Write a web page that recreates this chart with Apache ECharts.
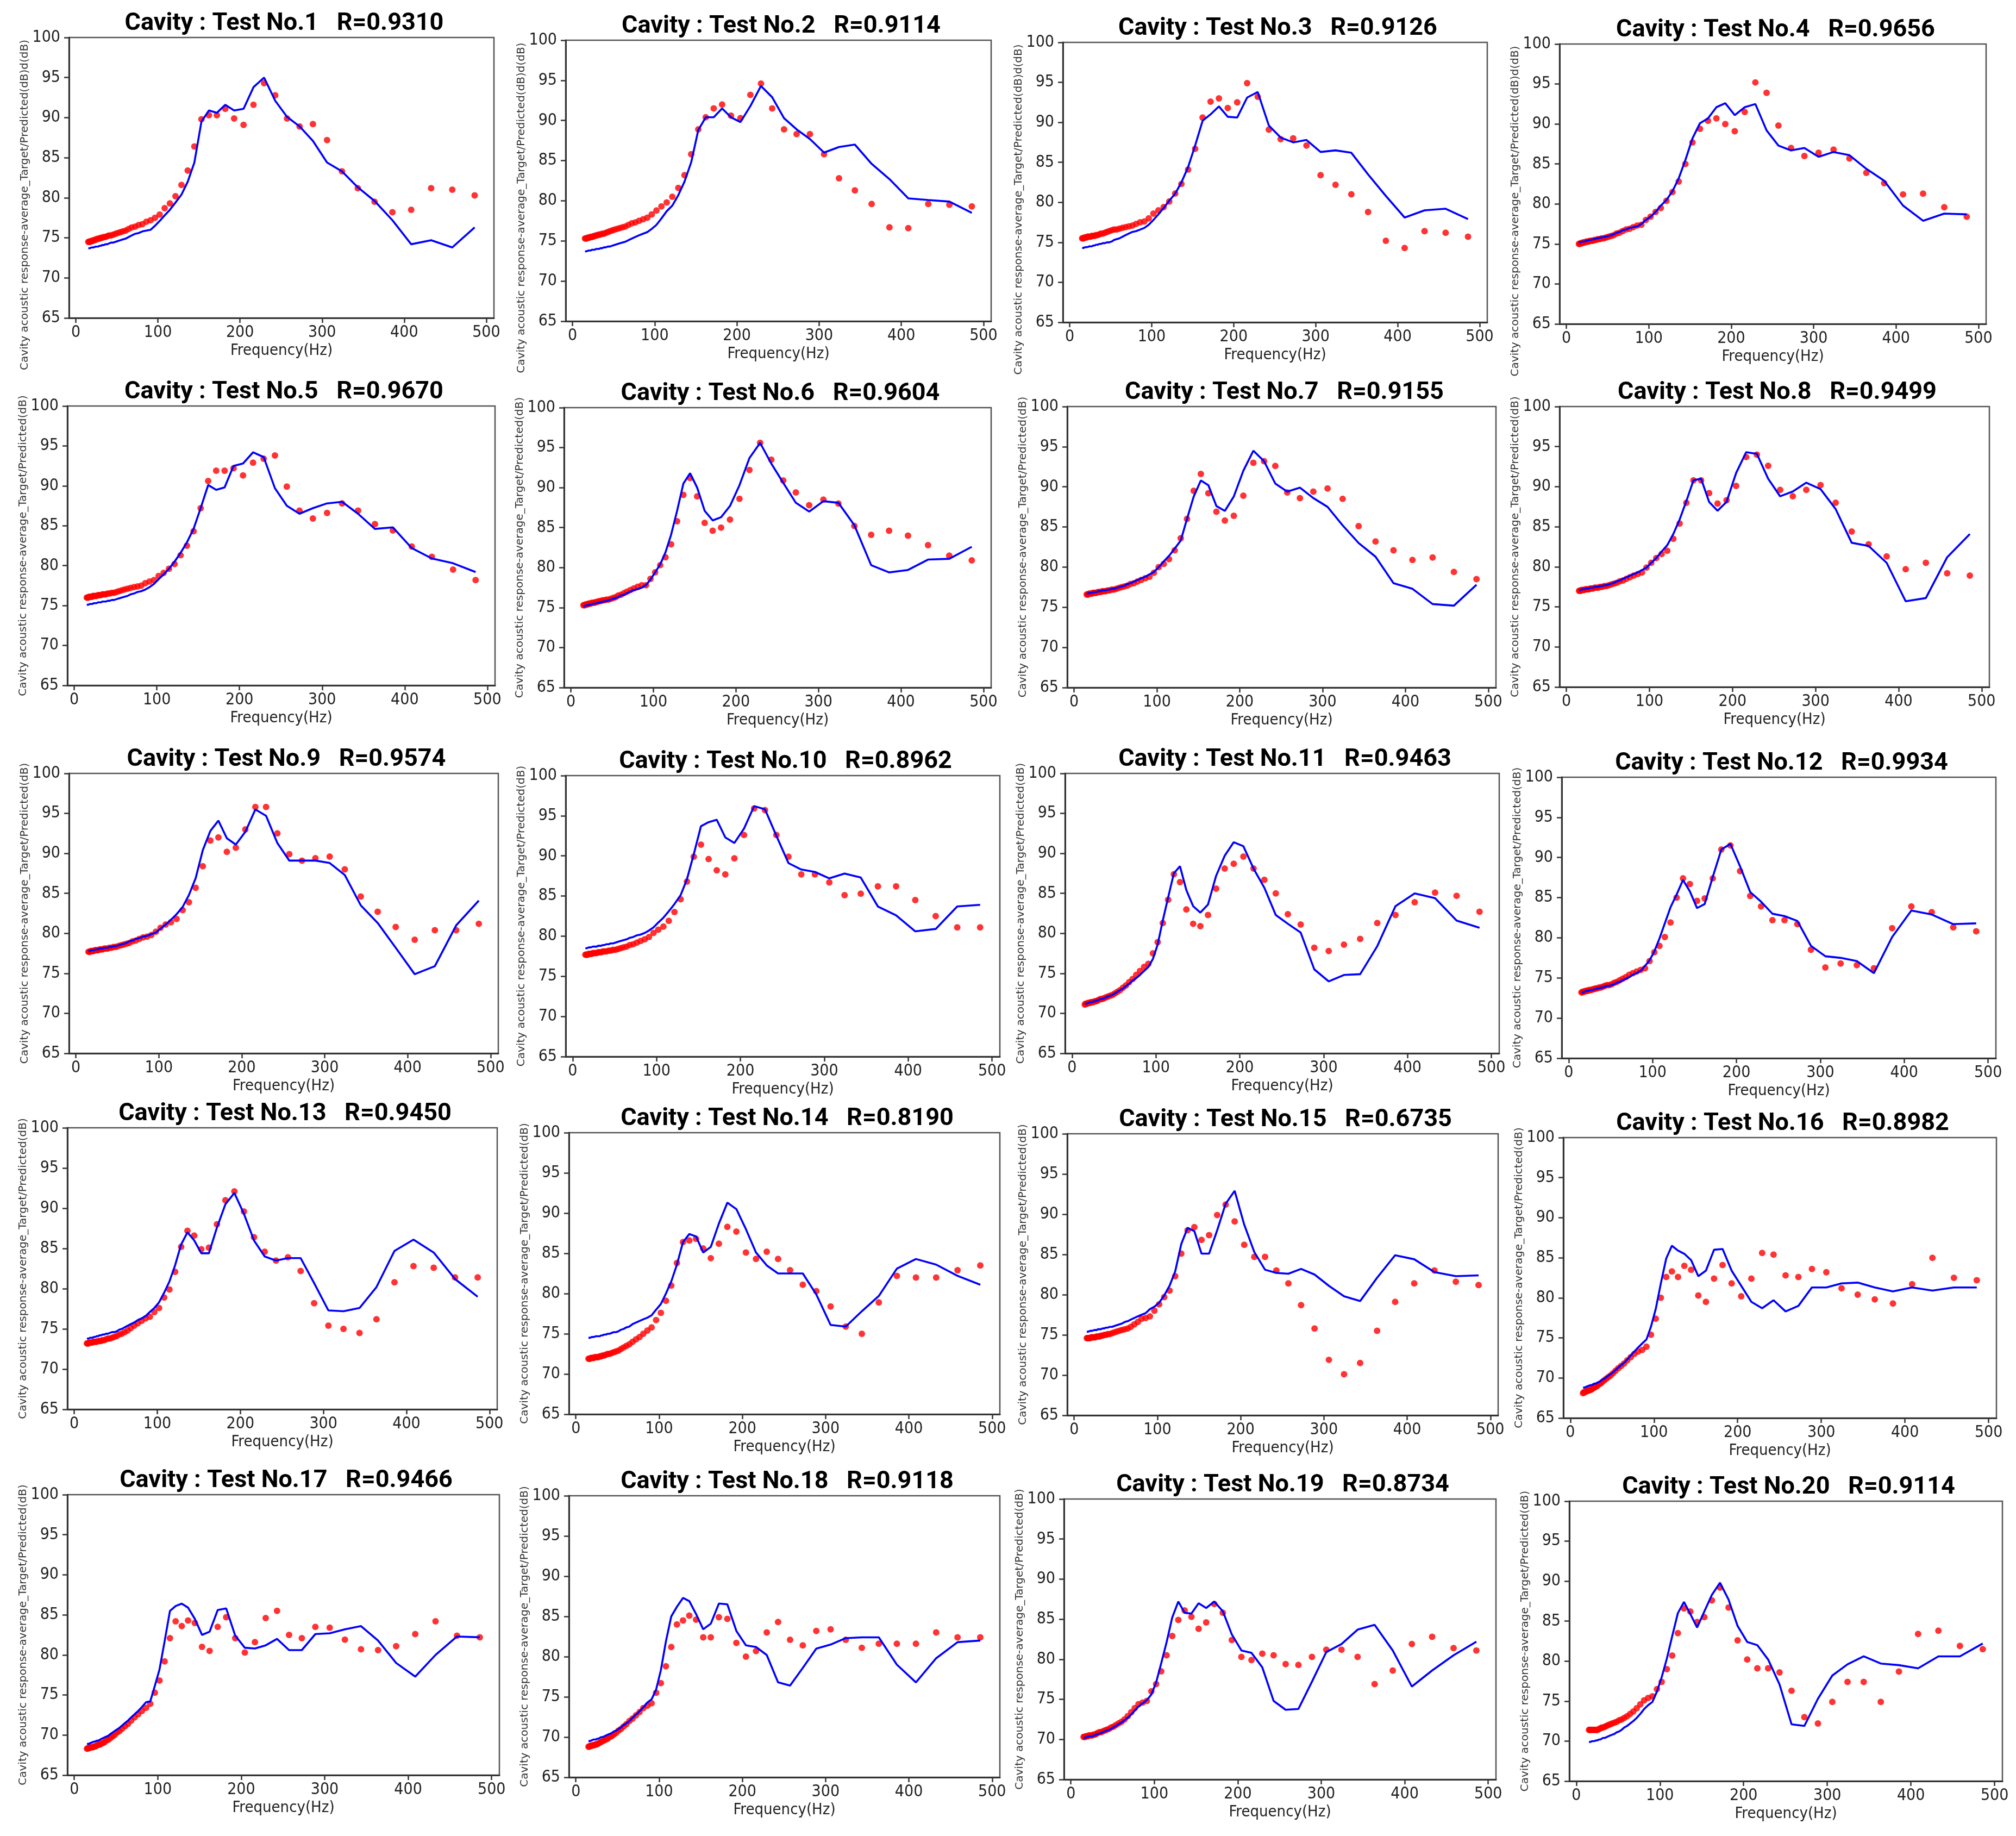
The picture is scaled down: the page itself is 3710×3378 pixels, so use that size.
<!DOCTYPE html>
<html><head><meta charset="utf-8">
<script src="https://cdn.jsdelivr.net/npm/echarts@6/dist/echarts.min.js"></script>
<style>html,body{margin:0;padding:0;background:#fff}#c{width:3710px;height:3378px}</style>
</head><body><div id="c"></div>
<script>
// 1/12-octave band frequencies (Hz)
const freq = [15.2,16.1,17.0,18.0,19.1,20.3,21.5,22.7,24.1,25.5,27.0,28.7,30.4,32.1,34.1,36.1,38.2,40.5,42.9,45.5,48.2,51.1,54.1,57.3,60.7,64.3,68.1,72.2,76.5,81.0,85.9,91.0,96.4,102.1,108.2,114.6,121.4,128.7,136.3,144.4,153.0,162.1,171.8,182.0,192.8,204.3,216.4,229.3,242.9,257.3,272.6,288.8,306.0,324.2,343.5,363.9,385.6,408.5,432.8,458.5,485.8];

const target1 = [74.5,74.5,74.5,74.6,74.6,74.6,74.7,74.7,74.8,74.8,74.9,74.9,75.0,75.0,75.1,75.1,75.2,75.3,75.3,75.4,75.5,75.6,75.7,75.8,75.9,76.1,76.3,76.4,76.6,76.7,77.0,77.2,77.5,77.9,78.7,79.3,80.2,81.6,83.4,86.4,89.8,90.3,90.3,91.1,89.9,89.1,91.6,94.3,92.8,89.9,88.9,89.2,87.2,83.3,81.2,79.5,78.2,78.5,81.2,81.0,80.3];
const pred1 = [73.7,73.7,73.7,73.7,73.8,73.8,73.8,73.8,73.9,73.9,73.9,74.0,74.0,74.1,74.1,74.2,74.2,74.3,74.4,74.4,74.5,74.6,74.7,74.8,74.9,75.1,75.3,75.5,75.6,75.8,75.9,76.0,76.5,77.1,77.8,78.5,79.4,80.4,82.0,84.4,89.5,90.9,90.6,91.6,90.9,91.1,93.8,95.0,92.1,90.1,88.9,87.1,84.4,83.3,81.3,79.6,77.2,74.2,74.7,73.8,76.3];
const target2 = [75.3,75.3,75.3,75.4,75.4,75.4,75.5,75.5,75.5,75.6,75.6,75.7,75.7,75.8,75.8,75.9,75.9,76.0,76.1,76.2,76.3,76.4,76.5,76.6,76.7,76.8,77.0,77.2,77.3,77.5,77.7,77.9,78.3,78.8,79.3,79.8,80.5,81.6,83.2,85.8,88.9,90.4,91.5,92.0,90.6,90.3,93.2,94.6,91.5,88.9,88.3,88.3,85.8,82.8,81.3,79.6,76.7,76.6,79.6,79.5,79.3];
const pred2 = [73.7,73.7,73.7,73.7,73.8,73.8,73.8,73.8,73.9,73.9,73.9,74.0,74.0,74.0,74.1,74.1,74.2,74.2,74.3,74.3,74.4,74.5,74.6,74.7,74.8,74.9,75.1,75.3,75.5,75.7,75.9,76.1,76.5,77.0,77.8,78.7,79.4,80.7,82.4,84.8,88.8,90.4,90.4,91.5,90.4,89.8,91.8,94.3,92.9,90.3,88.9,87.7,86.0,86.7,87.0,84.6,82.7,80.3,80.1,79.9,78.5];
const target3 = [75.5,75.5,75.5,75.6,75.6,75.6,75.7,75.7,75.7,75.7,75.8,75.8,75.8,75.9,75.9,76.0,76.1,76.1,76.2,76.3,76.4,76.5,76.6,76.6,76.7,76.8,76.9,77.0,77.1,77.3,77.5,77.6,78.0,78.6,79.0,79.4,80.1,81.1,82.3,84.1,86.7,90.6,92.6,93.0,91.8,92.5,94.9,93.2,89.1,87.9,88.0,87.1,83.4,82.2,81.0,78.8,75.2,74.3,76.4,76.2,75.7];
const pred3 = [74.3,74.3,74.3,74.3,74.4,74.4,74.4,74.4,74.5,74.5,74.5,74.6,74.6,74.7,74.7,74.8,74.8,74.9,74.9,75.0,75.0,75.1,75.3,75.4,75.5,75.7,75.9,76.1,76.3,76.4,76.6,76.8,77.2,77.8,78.5,79.3,80.2,81.1,82.5,84.4,87.1,90.2,91.0,92.0,90.7,90.6,93.1,93.8,89.6,88.1,87.5,87.8,86.3,86.5,86.2,83.5,80.8,78.1,79.0,79.2,77.9];
const target4 = [75.0,75.0,75.1,75.1,75.1,75.2,75.2,75.2,75.3,75.3,75.3,75.4,75.4,75.4,75.5,75.5,75.6,75.6,75.7,75.7,75.8,75.9,76.0,76.1,76.3,76.4,76.6,76.8,76.9,77.1,77.3,77.4,78.0,78.4,79.0,79.5,80.4,81.5,82.8,85.0,87.7,89.4,90.4,90.7,90.0,89.1,91.5,95.2,93.9,89.8,87.0,86.0,86.4,86.8,85.7,83.9,82.6,81.2,81.3,79.6,78.4];
const pred4 = [75.2,75.2,75.2,75.2,75.3,75.3,75.3,75.4,75.4,75.4,75.5,75.5,75.5,75.6,75.6,75.7,75.7,75.8,75.8,75.9,75.9,76.0,76.1,76.2,76.4,76.5,76.7,76.8,77.0,77.1,77.2,77.5,78.0,78.4,79.0,79.8,80.5,81.6,83.2,85.5,88.2,90.1,90.7,92.1,92.6,91.1,92.1,92.5,89.2,87.3,86.7,87.0,85.9,86.5,86.1,84.4,82.9,79.8,77.9,78.8,78.7];
const target5 = [76.0,76.0,76.0,76.1,76.1,76.1,76.1,76.2,76.2,76.2,76.2,76.3,76.3,76.3,76.4,76.4,76.4,76.5,76.5,76.6,76.6,76.7,76.8,76.9,77.0,77.1,77.2,77.3,77.4,77.5,77.8,78.0,78.2,78.7,79.1,79.6,80.2,81.3,82.5,84.3,87.2,90.6,91.9,91.9,92.2,91.3,92.9,93.4,93.8,89.9,86.9,85.9,86.6,87.8,86.9,85.2,84.4,82.4,81.1,79.5,78.2];
const pred5 = [75.1,75.1,75.1,75.2,75.2,75.2,75.2,75.3,75.3,75.3,75.3,75.4,75.4,75.4,75.5,75.5,75.5,75.6,75.6,75.7,75.7,75.8,75.9,76.0,76.1,76.2,76.4,76.5,76.7,76.8,77.0,77.3,77.7,78.3,78.9,79.6,80.5,81.6,82.9,84.6,87.2,90.1,89.5,89.8,92.5,92.8,94.2,93.6,89.7,87.5,86.5,87.2,87.8,88.0,86.5,84.6,84.8,82.2,80.9,80.3,79.2];
const target6 = [75.3,75.3,75.3,75.4,75.4,75.4,75.5,75.5,75.5,75.6,75.6,75.6,75.7,75.7,75.8,75.8,75.9,75.9,76.0,76.0,76.1,76.2,76.3,76.5,76.6,76.8,77.0,77.2,77.4,77.6,77.8,77.8,78.6,79.4,80.3,81.3,82.9,85.8,89.1,91.2,88.9,85.6,84.6,85.0,86.0,88.6,92.2,95.6,93.5,90.9,89.4,87.8,88.5,88.0,85.2,84.1,84.6,84.0,82.8,81.5,80.9];
const pred6 = [75.2,75.2,75.2,75.3,75.3,75.3,75.3,75.4,75.4,75.4,75.5,75.5,75.5,75.6,75.6,75.7,75.7,75.8,75.8,75.9,76.0,76.1,76.2,76.3,76.5,76.6,76.8,77.0,77.2,77.3,77.5,77.8,78.5,79.4,80.4,81.9,84.1,87.1,90.5,91.8,90.0,87.1,85.9,86.3,87.7,90.3,93.7,95.6,93.0,90.6,88.1,87.0,88.3,88.1,85.3,80.3,79.4,79.7,81.0,81.1,82.6];
const target7 = [76.6,76.6,76.6,76.7,76.7,76.7,76.7,76.8,76.8,76.8,76.8,76.9,76.9,76.9,77.0,77.0,77.0,77.1,77.1,77.2,77.2,77.3,77.4,77.5,77.6,77.7,77.9,78.0,78.2,78.4,78.6,78.8,79.3,80.0,80.4,81.0,82.1,83.6,86.0,89.5,91.6,89.2,86.9,85.8,86.4,88.9,93.0,93.2,92.6,89.3,88.6,89.4,89.8,88.5,85.1,83.2,82.1,80.9,81.2,79.4,78.5];
const pred7 = [76.7,76.7,76.7,76.7,76.8,76.8,76.8,76.8,76.9,76.9,76.9,77.0,77.0,77.0,77.1,77.1,77.1,77.2,77.2,77.3,77.3,77.4,77.5,77.6,77.7,77.9,78.0,78.2,78.4,78.6,78.8,79.1,79.4,80.0,80.7,81.4,82.3,83.3,86.0,88.8,90.8,90.2,87.6,87.0,88.8,92.0,94.5,93.2,90.4,89.4,89.9,88.6,87.5,85.2,83.0,81.3,78.0,77.3,75.4,75.2,77.8];
const target8 = [77.0,77.0,77.0,77.1,77.1,77.1,77.1,77.2,77.2,77.2,77.2,77.3,77.3,77.3,77.4,77.4,77.4,77.5,77.5,77.6,77.6,77.7,77.8,77.9,78.0,78.2,78.3,78.5,78.7,78.9,79.1,79.3,79.9,80.5,81.1,81.6,82.0,83.5,85.4,88.0,90.8,90.8,89.2,87.9,88.3,90.1,93.7,94.0,92.6,89.6,88.8,89.6,90.2,88.0,84.4,82.8,81.3,79.7,80.5,79.2,78.9];
const pred8 = [77.1,77.1,77.1,77.2,77.2,77.2,77.2,77.3,77.3,77.3,77.3,77.4,77.4,77.4,77.5,77.5,77.5,77.6,77.6,77.7,77.7,77.8,77.9,78.0,78.2,78.3,78.5,78.7,78.9,79.1,79.3,79.6,79.9,80.5,81.1,81.9,82.7,84.1,85.9,88.2,90.8,91.0,88.1,87.0,88.1,91.7,94.3,94.1,91.0,88.8,89.4,90.5,89.7,87.2,83.0,82.6,80.5,75.7,76.1,81.2,84.1];
const target9 = [77.7,77.7,77.7,77.8,77.8,77.8,77.8,77.9,77.9,77.9,77.9,78.0,78.0,78.0,78.1,78.1,78.1,78.2,78.2,78.3,78.3,78.4,78.5,78.6,78.7,78.8,79.0,79.1,79.3,79.5,79.6,79.8,80.2,80.7,81.1,81.4,81.8,82.9,83.9,85.7,88.4,91.6,92.0,90.2,90.7,93.0,95.8,95.8,92.5,89.9,89.1,89.4,89.6,88.0,84.6,82.7,80.8,79.2,80.4,80.4,81.2];
const pred9 = [77.8,77.8,77.8,77.9,77.9,77.9,77.9,78.0,78.0,78.0,78.0,78.1,78.1,78.1,78.2,78.2,78.2,78.3,78.3,78.4,78.4,78.5,78.6,78.7,78.8,79.0,79.1,79.3,79.4,79.6,79.7,79.9,80.1,80.6,81.1,81.7,82.4,83.3,84.8,86.9,90.4,92.8,94.1,91.9,91.1,92.7,95.5,94.7,91.3,89.1,89.1,89.1,88.8,87.3,83.5,81.3,78.2,74.9,75.9,81.0,84.1];
const target10 = [77.7,77.7,77.7,77.7,77.8,77.8,77.8,77.8,77.9,77.9,77.9,77.9,78.0,78.0,78.0,78.1,78.1,78.1,78.2,78.2,78.3,78.3,78.4,78.5,78.6,78.7,78.9,79.0,79.2,79.4,79.6,79.9,80.4,80.8,81.2,81.9,83.0,84.6,86.8,89.9,91.4,89.6,88.2,87.7,89.7,92.6,95.9,95.7,92.6,89.9,87.7,87.7,86.7,85.1,85.3,86.2,86.2,84.5,82.5,81.1,81.1];
const pred10 = [78.5,78.5,78.5,78.5,78.6,78.6,78.6,78.6,78.7,78.7,78.7,78.7,78.8,78.8,78.8,78.9,78.9,79.0,79.0,79.1,79.1,79.2,79.3,79.4,79.5,79.6,79.8,79.9,80.1,80.2,80.4,80.7,81.1,81.7,82.3,83.1,84.0,85.1,87.1,90.2,93.7,94.2,94.5,92.3,91.6,93.4,96.2,95.8,92.5,89.1,88.3,88.0,87.2,87.8,87.3,83.7,82.6,80.6,80.9,83.7,83.9];
const target11 = [71.1,71.2,71.2,71.2,71.3,71.3,71.3,71.4,71.4,71.4,71.5,71.5,71.6,71.7,71.8,71.8,71.9,72.0,72.1,72.2,72.3,72.5,72.7,72.9,73.2,73.5,73.9,74.3,74.8,75.3,75.8,76.2,77.5,78.9,81.3,84.2,87.4,86.4,83.0,81.2,80.9,82.3,85.6,88.1,88.7,89.6,88.1,86.7,85.0,82.4,81.1,78.2,77.8,78.6,79.3,81.3,82.3,83.9,85.1,84.7,82.7];
const pred11 = [71.2,71.2,71.2,71.3,71.3,71.3,71.4,71.4,71.4,71.5,71.5,71.6,71.6,71.7,71.8,71.8,71.9,72.0,72.1,72.2,72.3,72.5,72.7,72.9,73.1,73.4,73.7,74.1,74.4,74.8,75.3,75.8,76.8,78.6,81.6,84.5,87.5,88.4,85.4,83.4,82.6,83.6,87.2,89.7,91.4,90.9,88.1,85.7,82.3,81.2,80.1,75.5,74.0,74.8,74.9,78.4,83.4,85.0,84.4,81.6,80.7];
const target12 = [73.2,73.2,73.3,73.3,73.3,73.4,73.4,73.4,73.5,73.5,73.5,73.6,73.6,73.7,73.7,73.8,73.8,73.9,74.0,74.1,74.1,74.2,74.4,74.5,74.7,74.9,75.1,75.4,75.6,75.8,76.0,76.2,77.1,78.2,79.0,80.1,81.9,85.0,87.4,86.7,84.6,84.9,87.4,91.0,91.5,88.3,85.2,83.9,82.2,82.2,81.7,78.5,76.3,76.8,76.6,76.2,81.2,83.9,83.2,81.3,80.8];
const pred12 = [73.2,73.2,73.2,73.3,73.3,73.3,73.4,73.4,73.4,73.5,73.5,73.5,73.6,73.6,73.7,73.7,73.8,73.8,73.9,74.0,74.0,74.1,74.2,74.4,74.5,74.7,74.9,75.1,75.4,75.6,75.9,76.5,77.2,78.3,79.9,81.8,83.8,85.4,87.2,85.8,83.7,84.2,87.6,91.0,91.7,88.9,85.7,84.5,83.0,82.7,82.1,79.0,77.7,77.5,77.1,75.6,80.1,83.4,82.9,81.7,81.8];
const target13 = [73.2,73.2,73.2,73.3,73.3,73.3,73.3,73.4,73.4,73.4,73.4,73.5,73.5,73.5,73.6,73.6,73.7,73.8,73.8,73.9,74.0,74.1,74.3,74.4,74.6,74.8,75.1,75.4,75.7,76.0,76.3,76.5,77.1,77.6,78.9,79.9,82.1,85.2,87.2,86.6,84.9,85.1,88.0,91.0,92.1,89.6,86.4,84.6,83.5,83.9,82.2,78.2,75.4,75.0,74.5,76.2,80.8,82.8,82.6,81.4,81.4];
const pred13 = [73.8,73.8,73.8,73.9,73.9,73.9,73.9,74.0,74.0,74.0,74.1,74.1,74.2,74.2,74.3,74.3,74.4,74.4,74.5,74.6,74.6,74.7,74.9,75.0,75.2,75.4,75.6,75.8,76.1,76.3,76.6,77.1,77.6,78.3,79.5,80.9,82.9,85.5,87.0,86.0,84.4,84.4,87.6,90.5,91.9,89.3,86.0,84.0,83.5,83.8,83.8,80.7,77.3,77.2,77.6,80.2,84.7,86.1,84.5,81.2,79.0];
const target14 = [71.9,71.9,71.9,72.0,72.0,72.0,72.0,72.1,72.1,72.1,72.1,72.2,72.2,72.3,72.3,72.4,72.5,72.5,72.6,72.7,72.8,72.9,73.1,73.3,73.5,73.7,74.0,74.3,74.6,75.0,75.4,75.8,76.7,77.6,79.1,81.0,83.8,86.4,86.6,86.8,85.6,84.4,86.2,88.3,87.7,85.1,84.3,85.2,84.3,82.9,81.1,80.3,78.4,75.9,75.0,78.9,82.2,82.0,82.0,82.9,83.5];
const pred14 = [74.5,74.5,74.5,74.5,74.6,74.6,74.6,74.6,74.7,74.7,74.7,74.7,74.8,74.8,74.9,74.9,75.0,75.0,75.1,75.2,75.2,75.3,75.5,75.6,75.8,75.9,76.2,76.4,76.6,76.8,77.0,77.3,78.0,78.7,80.0,81.5,83.6,86.4,87.4,87.1,85.1,85.8,88.7,91.3,90.5,88.0,85.1,83.5,82.5,82.5,82.5,79.9,76.1,75.9,77.8,79.7,83.1,84.3,83.6,82.2,81.1];
const target15 = [74.6,74.6,74.6,74.6,74.6,74.7,74.7,74.7,74.7,74.7,74.8,74.8,74.8,74.9,74.9,75.0,75.0,75.1,75.1,75.2,75.3,75.4,75.5,75.6,75.7,75.8,76.0,76.3,76.6,77.0,77.1,77.3,78.0,78.8,79.7,80.5,82.3,85.1,88.0,88.4,86.8,87.4,89.9,91.2,89.1,86.2,84.7,84.7,83.0,81.4,78.7,75.8,71.9,70.1,71.5,75.5,79.1,81.4,83.0,81.6,81.2];
const pred15 = [75.4,75.4,75.4,75.5,75.5,75.5,75.5,75.6,75.6,75.6,75.6,75.7,75.7,75.7,75.8,75.8,75.9,75.9,76.0,76.0,76.1,76.2,76.3,76.4,76.6,76.7,76.9,77.1,77.3,77.5,77.7,78.2,78.5,79.0,79.9,81.1,82.9,86.3,88.3,87.9,85.1,85.1,88.0,91.3,92.9,88.7,85.3,83.1,82.7,82.6,83.2,82.5,81.1,79.8,79.2,82.1,84.9,84.4,82.8,82.3,82.4];
const target16 = [68.1,68.2,68.2,68.3,68.3,68.4,68.4,68.5,68.5,68.6,68.7,68.8,68.9,69.0,69.2,69.3,69.5,69.7,69.9,70.1,70.3,70.6,70.9,71.2,71.5,71.8,72.2,72.6,73.0,73.3,73.5,73.9,75.4,77.4,80.0,82.6,83.3,82.6,84.0,83.5,80.3,79.5,82.4,84.1,81.8,80.2,82.4,85.6,85.4,82.8,82.6,83.6,83.2,81.2,80.4,79.8,79.3,81.7,85.0,82.5,82.2];
const pred16 = [68.8,68.8,68.8,68.9,68.9,69.0,69.0,69.0,69.1,69.1,69.2,69.3,69.3,69.4,69.5,69.6,69.8,69.9,70.1,70.3,70.5,70.7,71.0,71.3,71.6,71.9,72.3,72.8,73.3,73.8,74.3,74.8,76.4,78.6,81.8,84.9,86.5,85.9,85.5,84.7,82.7,83.4,86.0,86.1,83.4,81.5,79.5,78.7,79.7,78.3,79.0,81.3,81.3,81.8,81.9,81.3,80.8,81.3,80.9,81.3,81.3];
const target17 = [68.3,68.3,68.4,68.4,68.4,68.5,68.5,68.5,68.6,68.6,68.7,68.8,68.8,68.9,69.0,69.1,69.3,69.4,69.6,69.8,70.0,70.3,70.5,70.8,71.1,71.4,71.8,72.2,72.6,73.0,73.4,73.9,75.3,76.8,79.2,82.1,84.2,83.6,84.3,84.0,81.0,80.5,83.5,84.7,82.1,80.3,81.6,84.6,85.5,82.5,82.1,83.5,83.4,81.9,80.7,80.6,81.1,82.6,84.2,82.4,82.2];
const pred17 = [68.9,68.9,68.9,69.0,69.0,69.0,69.1,69.1,69.2,69.2,69.3,69.3,69.4,69.5,69.6,69.7,69.8,69.9,70.1,70.3,70.5,70.7,70.9,71.2,71.5,71.8,72.2,72.6,73.0,73.5,74.1,74.2,76.1,78.2,81.7,85.5,86.1,86.4,85.9,84.5,82.5,82.9,85.6,85.8,82.4,80.9,80.8,81.2,82.0,80.6,80.6,82.6,82.7,83.2,83.6,81.8,79.0,77.3,80.0,82.3,82.2];
const target18 = [68.8,68.8,68.9,68.9,68.9,69.0,69.0,69.0,69.1,69.1,69.2,69.3,69.4,69.5,69.6,69.7,69.8,70.0,70.1,70.3,70.5,70.8,71.0,71.3,71.6,72.0,72.3,72.7,73.1,73.6,73.9,74.2,75.5,76.7,78.8,81.2,84.0,84.5,85.1,84.6,82.4,82.4,84.9,84.7,81.7,80.0,80.7,83.0,84.3,82.1,81.4,83.2,83.4,82.1,81.1,81.6,81.6,81.6,83.0,82.4,82.4];
const pred18 = [69.5,69.5,69.5,69.6,69.6,69.6,69.7,69.7,69.7,69.8,69.8,69.9,70.0,70.0,70.1,70.2,70.3,70.4,70.5,70.7,70.8,71.0,71.2,71.5,71.7,72.0,72.4,72.8,73.2,73.7,74.3,74.7,75.9,78.3,81.9,85.0,86.2,87.3,86.9,85.3,83.4,84.1,86.6,86.5,83.2,81.4,81.2,80.2,76.8,76.4,78.6,81.0,81.5,82.3,82.4,82.4,79.0,76.8,79.8,81.8,82.0];
const target19 = [70.3,70.3,70.3,70.4,70.4,70.4,70.5,70.5,70.5,70.5,70.6,70.6,70.7,70.8,70.9,70.9,71.0,71.1,71.2,71.3,71.5,71.6,71.8,72.0,72.2,72.5,72.9,73.4,73.9,74.4,74.6,74.8,76.0,76.9,78.5,80.5,82.9,84.9,86.1,85.3,83.8,84.6,86.9,85.8,82.4,80.3,79.9,80.7,80.5,79.4,79.3,80.3,81.2,81.2,80.3,76.9,78.6,81.9,82.8,81.4,81.1];
const pred19 = [70.2,70.2,70.2,70.3,70.3,70.3,70.4,70.4,70.4,70.4,70.5,70.5,70.6,70.7,70.7,70.8,70.9,71.0,71.1,71.2,71.3,71.5,71.7,71.9,72.1,72.4,72.7,73.1,73.6,74.1,74.5,74.9,75.6,77.1,79.5,82.1,85.2,87.2,85.8,85.7,87.0,86.4,87.2,86.0,83.1,81.1,80.8,79.0,74.8,73.7,73.8,77.2,80.9,81.9,83.7,84.3,81.1,76.6,78.6,80.5,82.2];
const target20 = [71.4,71.4,71.4,71.4,71.4,71.4,71.4,71.4,71.4,71.4,71.5,71.6,71.7,71.7,71.8,71.9,72.0,72.1,72.2,72.3,72.4,72.6,72.7,72.9,73.1,73.4,73.7,74.1,74.6,75.1,75.4,75.6,76.5,77.4,79.0,80.7,83.5,86.6,86.2,84.9,85.5,87.6,89.2,86.7,82.6,80.2,79.1,79.1,78.6,76.3,73.0,72.2,74.9,77.4,77.4,74.9,78.7,83.4,83.8,81.9,81.5];
const pred20 = [69.9,69.9,69.9,70.0,70.0,70.0,70.0,70.1,70.1,70.1,70.2,70.2,70.3,70.4,70.4,70.5,70.6,70.7,70.8,70.9,71.1,71.2,71.4,71.7,71.9,72.2,72.5,72.9,73.4,74.0,74.5,74.9,76.2,78.0,80.3,83.1,86.0,87.4,85.9,84.2,86.2,88.3,89.8,87.7,84.4,82.4,82.0,80.2,77.1,72.1,71.9,75.3,78.2,79.6,80.6,79.7,79.5,79.1,80.6,80.6,82.2];

const rValues = ['0.9310','0.9114','0.9126','0.9656','0.9670','0.9604','0.9155','0.9499','0.9574','0.8962','0.9463','0.9934','0.9450','0.8190','0.6735','0.8982','0.9466','0.9118','0.8734','0.9114'];
const xTickValues = [0, 100, 200, 300, 400, 500];
const yTickMin = 65, yTickMax = 100, yTickStep = 5;
const xLabel = 'Frequency(Hz)';
const yLabel = 'Cavity acoustic response-average_Target/Predicted(dB)';
const yLabelDup = 'Cavity acoustic response-average_Target/Predicted(dB)d(dB)';

const targets = [target1,target2,target3,target4,target5,target6,target7,target8,target9,target10,target11,target12,target13,target14,target15,target16,target17,target18,target19,target20];
const preds = [pred1,pred2,pred3,pred4,pred5,pred6,pred7,pred8,pred9,pred10,pred11,pred12,pred13,pred14,pred15,pred16,pred17,pred18,pred19,pred20];

// layout: plot rectangles [left, top, width, height]
const rects = [
  [127,69,782,516],[1041,74,783,517],[1956,78,781,515],[2870,81,785,515],
  [124,747,787,514],[1038,750,786,515],[1964,748,789,517],[2870,748,791,516],
  [127,1423,790,515],[1041,1427,799,517],[1960,1423,799,515],[2874,1430,799,517],
  [124,2075,791,518],[1047,2084,793,518],[1964,2086,793,518],[2877,2093,797,516],
  [124,2750,795,516],[1047,2752,793,518],[1958,2758,795,516],[2888,2762,797,515]
];

const narrowFont = "'Liberation Sans Narrow','DejaVu Sans Condensed','Roboto',sans-serif";
const axisColor = '#333';

const grids = [], xAxes = [], yAxes = [], series = [], titles = [], graphics = [];
rects.forEach((r, i) => {
  grids.push({left: r[0], top: r[1], width: r[2], height: r[3], show: true,
    borderColor: '#555', borderWidth: 2.5, backgroundColor: 'transparent'});
  titles.push({text: 'Cavity : Test No.' + (i + 1) + '   R=' + rValues[i],
    left: r[0] + r[2] / 2, top: r[1] - 53, textAlign: 'center',
    textStyle: {fontFamily: 'Roboto', fontWeight: 'bold', fontSize: 45, color: '#000'}});
  xAxes.push({type: 'value', gridIndex: i, min: -8.3, max: 509.3,
    axisLine: {show: true, onZero: false, lineStyle: {color: axisColor, width: 3}},
    axisTick: {show: true, customValues: xTickValues, length: 9, lineStyle: {color: axisColor, width: 2.5}},
    axisLabel: {customValues: xTickValues, fontFamily: narrowFont, fontSize: 30, color: '#222', margin: 12},
    splitLine: {show: false},
    name: xLabel, nameLocation: 'middle', nameGap: 46,
    nameTextStyle: {fontFamily: narrowFont, fontSize: 29, color: '#222'}});
  const dup = i < 4;
  yAxes.push({type: 'value', gridIndex: i, min: yTickMin, max: yTickMax, interval: yTickStep,
    axisLine: {show: true, onZero: false, lineStyle: {color: axisColor, width: 3}},
    axisTick: {show: true, length: 9, lineStyle: {color: axisColor, width: 2.5}},
    axisLabel: {fontFamily: narrowFont, fontSize: 30, color: '#222', margin: 16},
    splitLine: {show: false},
    name: dup ? yLabelDup : yLabel, nameLocation: 'middle', nameGap: 70, nameRotate: 90,
    nameTextStyle: {fontFamily: 'DejaVu Sans', fontSize: 20, color: '#333',
      padding: dup ? [0, 100, 0, 0] : [0, 0, 0, 0]}});
  series.push({type: 'scatter', xAxisIndex: i, yAxisIndex: i, z: 2,
    data: freq.map((f, k) => [f, targets[i][k]]),
    symbol: 'circle', symbolSize: 12, itemStyle: {color: '#ff0000'}, silent: true});
  series.push({type: 'line', xAxisIndex: i, yAxisIndex: i, z: 3,
    data: freq.map((f, k) => [f, preds[i][k]]),
    showSymbol: false, symbol: 'none', lineStyle: {color: '#0000ff', width: 3.6}, silent: true});
  if (targets[i].length !== freq.length || preds[i].length !== freq.length) {
    graphics.push({type: 'text', left: r[0] + 20, top: r[1] + 20,
      style: {text: 'LEN ' + targets[i].length + '/' + preds[i].length, fill: '#f0f', font: 'bold 40px sans-serif'}});
  }
});

const chart = echarts.init(document.getElementById('c'), null, {renderer: 'canvas'});
chart.setOption({
  backgroundColor: '#fff', animation: false,
  title: titles, grid: grids, xAxis: xAxes, yAxis: yAxes, series: series, graphic: graphics
});
</script>
</body></html>
